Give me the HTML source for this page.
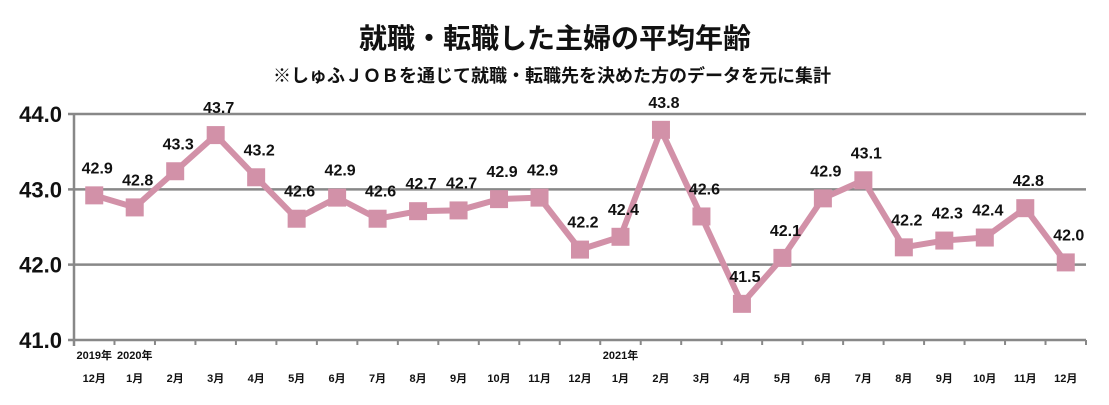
<!DOCTYPE html>
<html><head><meta charset="utf-8">
<style>
body{margin:0;background:#fff;width:1109px;height:400px;overflow:hidden;font-family:"Liberation Sans","Noto Sans CJK JP",sans-serif;}
svg text{font-family:"Liberation Sans","Noto Sans CJK JP",sans-serif;}
</style></head>
<body>
<svg id="chart" width="1109" height="400" viewBox="0 0 1109 400" xmlns="http://www.w3.org/2000/svg">
<text x="555" y="48" text-anchor="middle" font-size="28" font-weight="bold" fill="#111">就職・転職した主婦の平均年齢</text>
<text x="552" y="82" text-anchor="middle" font-size="18" font-weight="bold" fill="#111">※しゅふＪＯＢを通じて就職・転職先を決めた方のデータを元に集計</text>
<g id="grid"></g><g id="axes"></g><g id="series"></g><g id="labels"></g>
</svg>
<script>
const categories=["12月","1月","2月","3月","4月","5月","6月","7月","8月","9月","10月","11月","12月","1月","2月","3月","4月","5月","6月","7月","8月","9月","10月","11月","12月"];
const yearLabels=["2019年","2020年","","","","","","","","","","","","2021年","","","","","","","","","","",""];
const values=[42.92,42.76,43.24,43.72,43.16,42.61,42.89,42.61,42.71,42.72,42.87,42.89,42.2,42.37,43.79,42.64,41.48,42.09,42.88,43.12,42.23,42.32,42.36,42.75,42.03];
const valueLabels=["42.9","42.8","43.3","43.7","43.2","42.6","42.9","42.6","42.7","42.7","42.9","42.9","42.2","42.4","43.8","42.6","41.5","42.1","42.9","43.1","42.2","42.3","42.4","42.8","42.0"];
const yTicks=[41,42,43,44];
const yTickLabels=["41.0","42.0","43.0","44.0"];

const L=74,R=1086,T=114,B=340,yMin=41,yMax=44;
const bw=(R-L)/categories.length;
const x=i=>L+bw*(i+0.5);
const y=v=>B-(v-yMin)/(yMax-yMin)*(B-T);
const NS="http://www.w3.org/2000/svg";
function mk(tag,attrs,parent,txt){const e=document.createElementNS(NS,tag);for(const k in attrs)e.setAttribute(k,attrs[k]);if(txt!==undefined)e.textContent=txt;document.getElementById(parent).appendChild(e);return e;}

yTicks.forEach((t,i)=>{
  const g=mk('line',{x1:L-6,x2:R,y1:y(t),y2:y(t),stroke:'#888','stroke-width':2.5},'grid');
  
  
  const tl=mk('text',{x:L-12,y:y(t)+8,'text-anchor':'end','font-size':22,'font-weight':'bold',fill:'#111'},'axes',yTickLabels[i]);
  
  
});
const ya=mk('line',{x1:L,x2:L,y1:T,y2:B+6,stroke:'#888','stroke-width':2.5},'axes');


for(let i=0;i<=categories.length;i++){
  const tk=mk('line',{x1:L+bw*i,x2:L+bw*i,y1:B,y2:B+5,stroke:'#888','stroke-width':2},'axes');
  
  
}
categories.forEach((c,i)=>{
  const t=mk('text',{x:x(i),y:382,'text-anchor':'middle','font-size':11,'font-weight':'bold',fill:'#111'},'axes',c);
  
  
  if(yearLabels[i]){
    const yl=mk('text',{x:x(i),y:359,'text-anchor':'middle','font-size':11,'font-weight':'bold',fill:'#111'},'axes',yearLabels[i]);
    
    
  }
});
const pts=values.map((v,i)=>x(i)+','+y(v)).join(' ');
const pl=mk('polyline',{points:pts,fill:'none',stroke:'#d291a8','stroke-width':6,'stroke-linejoin':'round'},'series');


values.forEach((v,i)=>{
  const m=mk('rect',{x:x(i)-9,y:y(v)-9,width:18,height:18,fill:'#d291a8'},'series');
  
  
  const t=mk('text',{x:x(i)+3,y:y(v)-22,'text-anchor':'middle','font-size':16,'font-weight':'bold',fill:'#111'},'labels',valueLabels[i]);
  
  
});
</script>
</body></html>
